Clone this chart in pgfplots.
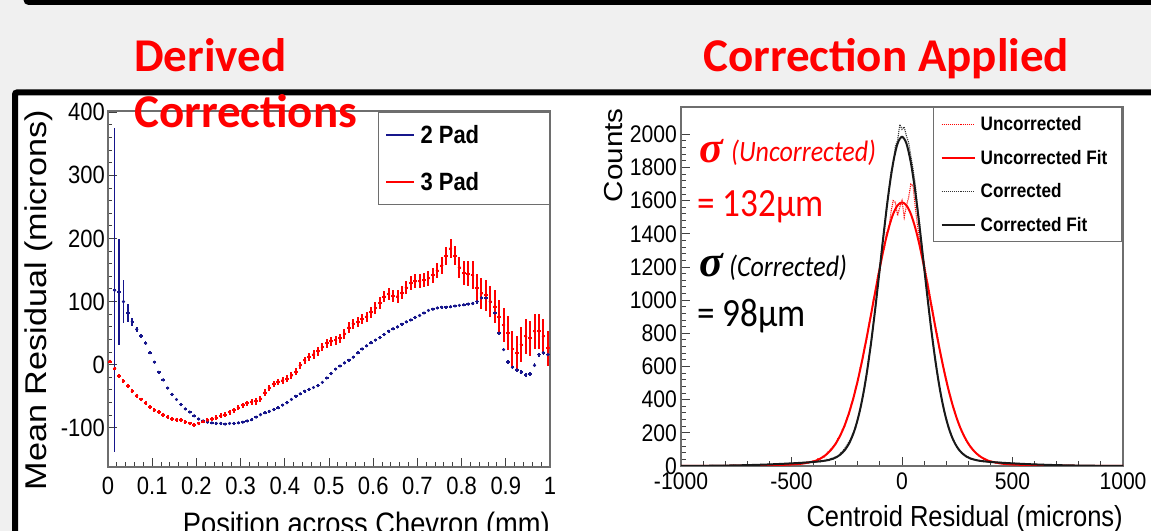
\documentclass[border=0pt]{standalone}
\usepackage{fontspec}
\usepackage{pgfplots}
\pgfplotsset{compat=1.18}
\usepackage{pgfplotstable}
\setmainfont{Liberation Sans}
\newfontfamily\rootH[FakeStretch=0.88]{Liberation Sans}
\newfontfamily\rootV[FakeStretch=1.14]{Liberation Sans}
\newfontfamily\noteH[FakeStretch=0.88]{Carlito}
\newfontfamily\titlefont{Carlito}
\newfontfamily\sigmafont{Liberation Serif}

\definecolor{padblue}{RGB}{22,22,140}
\definecolor{slidebg}{RGB}{240,240,240}
\definecolor{framegray}{RGB}{110,110,110}

% mean residual per bin, 2-pad clusters
\pgfplotstableread{
x y ey
0.015 118 257
0.025 115 84
0.035 100 34
0.045 82 14
0.055 68 6
0.065 56 4
0.075 46 3
0.085 34 3
0.095 19 2
0.105 4 2
0.115 -12 2
0.125 -24 2
0.135 -37 2
0.145 -47 2
0.155 -55 2
0.165 -63 2
0.175 -70 2
0.185 -75 2
0.195 -81 2
0.205 -86 2
0.215 -89 2
0.225 -91 2
0.235 -92 2
0.245 -93 2
0.255 -93 2
0.265 -94 2
0.275 -93 2
0.285 -93 2
0.295 -92 2
0.305 -91 2
0.315 -89 2
0.325 -87 2
0.335 -83 2
0.345 -79 2
0.355 -76 2
0.365 -74 2
0.375 -71 2
0.385 -68 2
0.395 -64 2
0.405 -60 2
0.415 -55 2
0.425 -50 2
0.435 -46 2
0.445 -42 2
0.455 -39 2
0.465 -36 2
0.475 -33 2
0.485 -28 2
0.495 -21 2
0.505 -14 2
0.515 -7 2
0.525 -2 2
0.535 3 2
0.545 7 2
0.555 12 2
0.565 19 2
0.575 25 2
0.585 30 2
0.595 35 2
0.605 39 2
0.615 43 2
0.625 48 2
0.635 53 2
0.645 57 2
0.655 60 2
0.665 64 2
0.675 68 2
0.685 71 2
0.695 75 2
0.705 78 2
0.715 82 2
0.725 86 2
0.735 88 2
0.745 90 2
0.755 91 2
0.765 91 2
0.775 92 2
0.785 93 2
0.795 94 2
0.805 95 2
0.815 96 2
0.825 97 2
0.835 100 3
0.845 106 3
0.855 106 3
0.865 100 3
0.875 82 3
0.885 50 3
0.895 24 3
0.905 4 3
0.915 -4 3
0.925 -8 3
0.935 -12 3
0.945 -16 3
0.955 -15 3
0.965 -1 3
0.975 16 3
0.985 19 3
0.995 16 3
}\twopad

% mean residual per bin, 3-pad clusters
\pgfplotstableread{
x y ey
0.005 5 3
0.015 -6 3
0.025 -18 3
0.035 -26 3
0.045 -34 3
0.055 -42 3
0.065 -49 3
0.075 -55 3
0.085 -61 3
0.095 -67 3
0.105 -72 3
0.115 -75 3
0.125 -79 3
0.135 -83 3
0.145 -86 3
0.155 -87 3
0.165 -88 3
0.175 -91 3
0.185 -93 3
0.195 -95 3
0.205 -93 3
0.215 -90 3
0.225 -88 3
0.235 -86 3
0.245 -84 4
0.255 -81 4
0.265 -79 4
0.275 -75 4
0.285 -72 4
0.295 -68 4
0.305 -64 4
0.315 -61 4
0.325 -59 5
0.335 -58 5
0.345 -54 5
0.355 -44 5
0.365 -37 5
0.375 -31 5
0.385 -27 5
0.395 -25 5
0.405 -22 6
0.415 -17 6
0.425 -11 6
0.435 -1 6
0.445 7 6
0.455 12 6
0.465 16 7
0.475 21 7
0.485 28 7
0.495 34 7
0.505 37 7
0.515 39 7
0.525 42 7
0.535 49 8
0.545 59 8
0.555 65 8
0.565 68 8
0.575 72 8
0.585 76 8
0.595 83 9
0.605 90 9
0.615 98 9
0.625 108 9
0.635 112 10
0.645 109 10
0.655 108 10
0.665 114 10
0.675 122 10
0.685 129 11
0.695 132 11
0.705 132 11
0.715 134 11
0.725 137 12
0.735 142 12
0.745 149 12
0.755 157 13
0.765 172 14
0.775 184 15
0.785 173 15
0.795 154 17
0.805 145 19
0.815 144 20
0.825 142 22
0.835 121 22
0.845 113 24
0.855 110 25
0.865 100 25
0.875 92 26
0.885 76 26
0.895 63 27
0.905 50 27
0.915 25 28
0.925 18 28
0.935 32 28
0.945 45 28
0.955 42 28
0.965 53 28
0.975 53 28
0.985 45 28
0.995 26 28
}\threepad

% centroid residual histogram before correction
\pgfplotstableread{
x y
-1000 0
-980 1
-960 0
-940 1
-920 2
-900 0
-880 1
-860 2
-840 1
-820 0
-800 2
-780 1
-760 3
-740 2
-720 1
-700 3
-680 2
-660 4
-640 3
-620 5
-600 4
-580 6
-560 5
-540 8
-520 7
-500 10
-480 9
-460 14
-440 16
-420 22
-400 31
-390 27
-380 44
-370 40
-360 58
-350 55
-340 78
-330 92
-320 105
-310 122
-300 131
-290 166
-280 176
-270 220
-260 236
-250 290
-240 311
-230 372
-220 402
-210 475
-200 508
-190 590
-180 630
-170 718
-160 762
-150 858
-140 902
-130 1002
-120 1045
-110 1150
-100 1185
-90 1290
-80 1310
-70 1410
-60 1425
-50 1530
-40 1600
-30 1590
-20 1510
-10 1560
0 1600
10 1500
20 1570
30 1620
40 1700
50 1690
60 1560
70 1450
80 1360
90 1300
100 1230
110 1150
120 1085
130 1000
140 935
150 850
160 790
170 712
180 650
190 580
200 528
210 465
220 420
230 360
240 328
250 275
260 250
270 206
280 188
290 152
300 140
310 111
320 103
330 80
340 75
350 57
360 55
370 41
380 40
390 30
400 30
420 20
440 17
460 14
480 11
500 9
520 10
540 7
560 6
580 5
600 6
620 4
640 3
660 4
680 2
700 3
720 2
740 1
760 2
780 1
800 1
820 2
840 0
860 1
880 0
900 1
920 0
940 1
960 0
980 0
1000 1
}\uncorr

% centroid residual histogram after correction
\pgfplotstableread{
x y
-1000 1
-980 0
-960 2
-940 1
-920 0
-900 2
-880 1
-860 3
-840 2
-820 1
-800 4
-780 2
-760 5
-740 3
-720 6
-700 4
-680 7
-660 5
-640 9
-620 7
-600 11
-580 9
-560 13
-540 11
-520 16
-500 14
-480 18
-460 16
-440 22
-420 19
-400 28
-390 22
-380 31
-370 25
-360 35
-350 29
-340 40
-330 33
-320 48
-310 42
-300 58
-290 55
-280 75
-270 88
-260 104
-250 125
-240 146
-230 171
-220 205
-210 229
-200 290
-190 331
-180 412
-170 466
-160 548
-150 661
-140 732
-130 860
-120 948
-110 1092
-100 1183
-90 1335
-80 1418
-70 1570
-60 1640
-50 1772
-40 1815
-30 1930
-20 1962
-10 2060
0 2030
10 2045
20 1990
30 1950
40 1870
50 1790
60 1700
70 1570
80 1460
90 1335
100 1215
110 1090
120 975
130 838
140 755
150 632
160 566
170 462
180 410
190 330
200 290
210 229
220 202
230 158
240 140
250 107
260 98
270 76
280 71
290 55
300 54
310 42
320 44
330 34
340 37
350 29
360 32
370 26
380 29
390 23
400 26
420 21
440 23
460 17
480 19
500 14
520 16
540 12
560 14
580 9
600 11
620 8
640 9
660 6
680 7
700 4
720 6
740 3
760 4
780 2
800 3
820 1
840 2
860 1
880 2
900 0
920 1
940 2
960 0
980 1
1000 0
}\corr

% fitted shapes
\pgfplotstableread{
x y
-1000 0.25
-950 0.4
-900 0.6
-850 0.9
-800 1.3
-750 1.9
-700 2.6
-650 3.6
-600 4.8
-550 6.5
-500 9.2
-450 14.6
-400 28
-380 38
-360 52
-340 72
-320 99
-300 135
-280 183
-260 243
-240 319
-220 410
-200 517
-180 639
-160 773
-140 915
-120 1059
-100 1198
-80 1327
-60 1436
-40 1520
-20 1572
0 1590
20 1572
40 1520
60 1436
80 1327
100 1198
120 1059
140 915
160 773
180 639
200 517
220 410
240 319
260 243
280 183
300 135
320 99
340 72
360 52
380 38
400 28
450 14.6
500 9.2
550 6.5
600 4.8
650 3.6
700 2.6
750 1.9
800 1.3
850 0.9
900 0.6
950 0.4
1000 0.25
}\uncorrfit

\pgfplotstableread{
x y
-1000 0.5
-950 0.8
-900 1.2
-850 1.8
-800 2.6
-750 3.8
-700 5.3
-650 7.2
-600 9.6
-550 12.5
-500 15.9
-450 19.7
-400 24.5
-380 27
-360 30
-340 34
-320 41
-300 51
-280 68
-260 94
-240 135
-220 196
-200 283
-180 401
-160 555
-140 743
-120 961
-100 1198
-80 1435
-60 1654
-40 1830
-20 1945
0 1985
20 1945
40 1830
60 1654
80 1435
100 1198
120 961
140 743
160 555
180 401
200 283
220 196
240 135
260 94
280 68
300 51
320 41
340 34
360 30
380 27
400 24.5
450 19.7
500 15.9
550 12.5
600 9.6
650 7.2
700 5.3
750 3.8
800 2.6
850 1.8
900 1.2
950 0.8
1000 0.5
}\corrfit

\pgfplotsset{
  /pgfplots/legendlinelen/.initial=28bp,
  rootaxis/.style={
    scale only axis,
    anchor=south west,
    axis line style={framegray, line width=1.1bp},
    tick pos=left,
    tick align=inside,
    tick style={black!75, line width=1bp},
    major tick length=9bp,
    minor tick length=4.5bp,
    minor x tick num=4,
    minor y tick num=4,
    /pgf/number format/assume math mode=true,
    legend cell align=left,
    legend image code/.code={%
      \draw[##1] (0bp,0bp) -- (\pgfkeysvalueof{/pgfplots/legendlinelen},0bp);},
  },
}

\begin{document}
\begin{tikzpicture}
\useasboundingbox (0,0) rectangle (1151bp,531bp);
\fill[slidebg] (0,0) rectangle (1151bp,531bp);
% slide frames
\draw[black, line width=5bp, rounded corners=3bp] (26bp,545bp) -- (26bp,528.5bp) -- (1170bp,528.5bp);
\fill[white] (15bp,-10bp) rectangle (1170bp,438.5bp);
\draw[black, line width=6bp, rounded corners=2bp] (15bp,-10bp) -- (15bp,438.5bp) -- (1170bp,438.5bp);

% ---- left panel: derived corrections ----
\begin{axis}[rootaxis,
  at={(108bp,64bp)}, width=442bp, height=356bp,
  xmin=0, xmax=1, ymin=-162, ymax=402,
  xtick={0,0.1,0.2,0.3,0.4,0.5,0.6,0.7,0.8,0.9,1},
  xticklabels={0,0.1,0.2,0.3,0.4,0.5,0.6,0.7,0.8,0.9,1},
  ytick={-100,0,100,200,300,400},
  yticklabels={-100,0,100,200,300,400},
  xticklabel style={font=\rootH\fontsize{25bp}{25bp}\selectfont, inner sep=0pt, anchor=north, yshift=-10bp},
  yticklabel style={font=\rootH\fontsize{25bp}{25bp}\selectfont, inner sep=0pt, anchor=east, xshift=-3bp},
  xlabel={Position across Chevron (mm)},
  ylabel={Mean Residual (microns)},
  every axis x label/.style={at={(rel axis cs:1,0)}, anchor=north east, inner sep=0pt, yshift=-45bp,
    font=\rootH\fontsize{31bp}{31bp}\selectfont},
  every axis y label/.style={at={(rel axis cs:-0.156,1.003)}, rotate=90, anchor=east, inner sep=0pt,
    font=\rootV\fontsize{30bp}{30bp}\selectfont},
  legend style={at={(rel axis cs:1,0.997)}, anchor=north east, draw=framegray, line width=1bp,
    fill=white, inner xsep=7bp, inner ysep=13bp, row sep=27bp,
    font=\rootH\bfseries\fontsize{25bp}{25bp}\selectfont, nodes={inner sep=0pt}},
]
\addlegendimage{padblue, line width=2.2bp}
\addlegendentry{\makebox[127bp][l]{\hspace{5bp}2 Pad}}
\addlegendimage{red, line width=2.2bp}
\addlegendentry{\makebox[127bp][l]{\hspace{5bp}3 Pad}}
\addplot[forget plot, padblue, only marks, mark=*, mark size=1.4bp,
  error bars/.cd, y dir=both, y explicit, x dir=both, x fixed=0.004,
  error mark=none, error bar style={line width=1.7bp}]
  table[x=x, y=y, y error=ey] {\twopad};
\addplot[forget plot, red, only marks, mark=*, mark size=1.4bp,
  error bars/.cd, y dir=both, y explicit, x dir=both, x fixed=0.004,
  error mark=none, error bar style={line width=2bp}]
  table[x=x, y=y, y error=ey] {\threepad};
\end{axis}

% ---- right panel: correction applied ----
\begin{axis}[rootaxis,
  at={(681bp,65bp)}, width=442bp, height=359bp,
  xmin=-1000, xmax=1000, ymin=0, ymax=2165,
  xtick={-1000,-500,0,500,1000},
  xticklabels={-1000,-500,0,500,1000},
  ytick={0,200,400,600,800,1000,1200,1400,1600,1800,2000},
  yticklabels={0,200,400,600,800,1000,1200,1400,1600,1800,2000},
  xticklabel style={font=\rootH\fontsize{24bp}{24bp}\selectfont, inner sep=0pt, anchor=north, yshift=-7bp},
  yticklabel style={font=\rootH\fontsize{24bp}{24bp}\selectfont, inner sep=0pt, anchor=east, xshift=-4bp},
  xlabel={Centroid Residual (microns)},
  ylabel={Counts},
  every axis x label/.style={at={(rel axis cs:1,0)}, anchor=north east, inner sep=0pt, yshift=-39bp,
    font=\rootH\fontsize{29bp}{29bp}\selectfont},
  every axis y label/.style={at={(rel axis cs:-0.1516,0.997)}, rotate=90, anchor=east, inner sep=0pt,
    font=\rootV\fontsize{26bp}{26bp}\selectfont},
  legendlinelen=33bp,
  legend style={at={(rel axis cs:0.998,1)}, anchor=north east, draw=framegray, line width=1bp,
    fill=white, inner xsep=7bp, inner ysep=9bp, row sep=18bp,
    font=\rootH\bfseries\fontsize{19.5bp}{20bp}\selectfont, nodes={inner sep=0pt}},
]
\addlegendimage{red, densely dotted, line width=1.1bp}
\addlegendentry{\makebox[139bp][l]{\hspace{5bp}Uncorrected}}
\addlegendimage{red, line width=2bp}
\addlegendentry{\makebox[139bp][l]{\hspace{5bp}Uncorrected Fit}}
\addlegendimage{black!80, densely dotted, line width=1.1bp}
\addlegendentry{\makebox[139bp][l]{\hspace{5bp}Corrected}}
\addlegendimage{black!90, line width=2bp}
\addlegendentry{\makebox[139bp][l]{\hspace{5bp}Corrected Fit}}
\addplot[forget plot, red, densely dotted, line width=1.1bp] table[x=x, y=y] {\uncorr};
\addplot[forget plot, black!80, densely dotted, line width=1.1bp] table[x=x, y=y] {\corr};
\addplot[forget plot, red, line width=2bp, smooth] table[x=x, y=y] {\uncorrfit};
\addplot[forget plot, black!90, line width=2bp, smooth] table[x=x, y=y] {\corrfit};
\end{axis}

% fit widths written on the right panel
\node[anchor=base west, inner sep=0pt, text=red] at (699bp,368bp)
  {\sigmafont\bfseries\itshape\fontsize{44bp}{44bp}\selectfont σ};
\node[anchor=base west, inner sep=0pt, text=red] at (731bp,369bp)
  {\noteH\itshape\fontsize{29.5bp}{30bp}\selectfont (Uncorrected)};
\node[anchor=base west, inner sep=0pt, text=red] at (697bp,314bp)
  {\noteH\fontsize{40bp}{40bp}\selectfont = 132µm};
\node[anchor=base west, inner sep=0pt, text=black] at (699bp,254bp)
  {\sigmafont\bfseries\itshape\fontsize{44bp}{44bp}\selectfont σ};
\node[anchor=base west, inner sep=0pt, text=black] at (729bp,254bp)
  {\noteH\itshape\fontsize{29.5bp}{30bp}\selectfont (Corrected)};
\node[anchor=base west, inner sep=0pt, text=black] at (697bp,204bp)
  {\noteH\fontsize{40bp}{40bp}\selectfont = 98µm};

% slide titles
\node[anchor=base west, inner sep=0pt, text=red] at (134bp,459bp)
  {\titlefont\bfseries\fontsize{47bp}{56bp}\selectfont Derived};
\node[anchor=base west, inner sep=0pt, text=red] at (134bp,403bp)
  {\titlefont\bfseries\fontsize{47bp}{56bp}\selectfont Corrections};
\node[anchor=base west, inner sep=0pt, text=red] at (703bp,459bp)
  {\titlefont\bfseries\fontsize{47bp}{56bp}\selectfont Correction Applied};
\end{tikzpicture}
\end{document}
